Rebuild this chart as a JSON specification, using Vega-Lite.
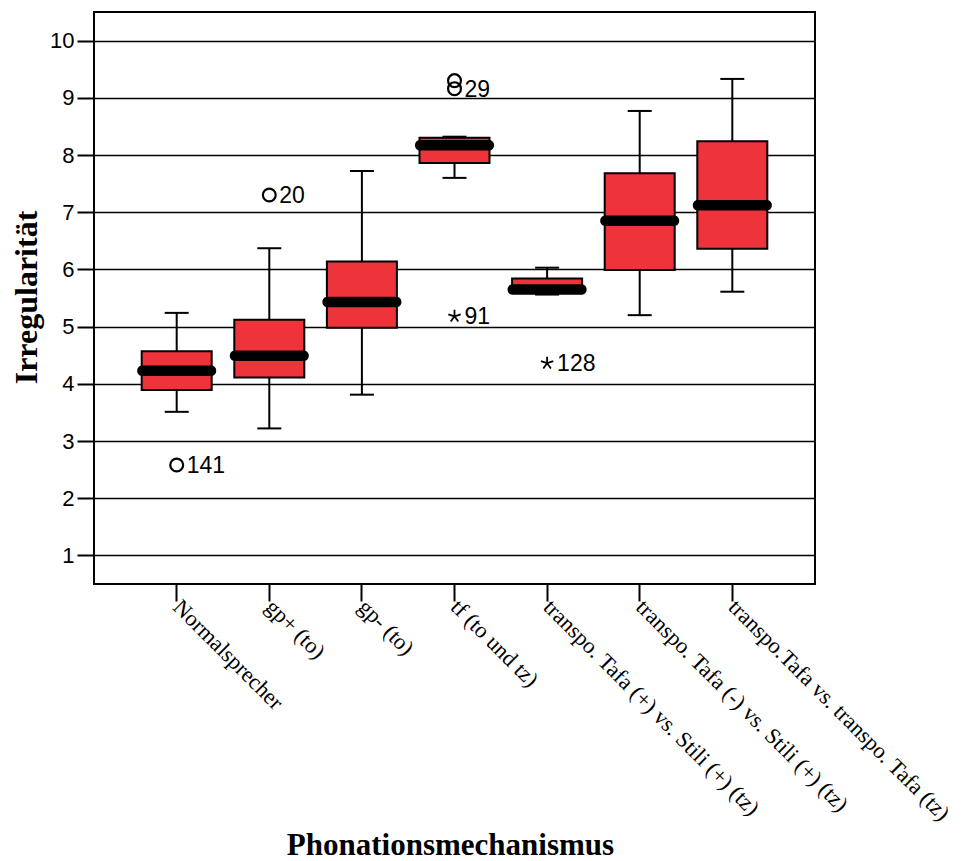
{
  "$schema": "https://vega.github.io/schema/vega-lite/v6.json",
  "width": 721,
  "height": 572,
  "autosize": {"type": "none"},
  "padding": {"left": 94, "top": 12, "right": 146, "bottom": 277},
  "background": "white",
  "config": {
    "view": {"stroke": "black", "strokeWidth": 2},
    "axis": {"labelColor": "black", "titleColor": "black"}
  },
  "datasets": {
    "boxes": [
      {"group": "Normalsprecher", "low": 3.51, "q1": 3.89, "median": 4.23, "q3": 4.57, "high": 5.24},
      {"group": "gp+ (to)", "low": 3.22, "q1": 4.11, "median": 4.49, "q3": 5.12, "high": 6.37},
      {"group": "gp- (to)", "low": 3.81, "q1": 4.98, "median": 5.43, "q3": 6.14, "high": 7.72},
      {"group": "tf (to und tz)", "low": 7.60, "q1": 7.86, "median": 8.17, "q3": 8.30, "high": 8.32},
      {"group": "transpo. Tafa (+) vs. Stili (+) (tz)", "low": 5.56, "q1": 5.60, "median": 5.65, "q3": 5.84, "high": 6.03},
      {"group": "transpo. Tafa (-) vs. Stili (+) (tz)", "low": 5.20, "q1": 5.99, "median": 6.85, "q3": 7.68, "high": 8.77},
      {"group": "transpo.Tafa vs. transpo. Tafa (tz)", "low": 5.61, "q1": 6.36, "median": 7.12, "q3": 8.24, "high": 9.33}
    ],
    "outliers": [
      {"group": "Normalsprecher", "value": 2.58, "kind": "outlier", "label": "141"},
      {"group": "gp+ (to)", "value": 7.30, "kind": "outlier", "label": "20"},
      {"group": "tf (to und tz)", "value": 9.30, "kind": "outlier", "label": ""},
      {"group": "tf (to und tz)", "value": 9.16, "kind": "outlier", "label": "29"},
      {"group": "tf (to und tz)", "value": 5.18, "kind": "extreme", "label": "91"},
      {"group": "transpo. Tafa (+) vs. Stili (+) (tz)", "value": 4.36, "kind": "extreme", "label": "128"}
    ]
  },
  "encoding": {
    "x": {
      "field": "group",
      "type": "nominal",
      "sort": null,
      "scale": {
        "type": "band",
        "domain": ["Normalsprecher", "gp+ (to)", "gp- (to)", "tf (to und tz)", "transpo. Tafa (+) vs. Stili (+) (tz)", "transpo. Tafa (-) vs. Stili (+) (tz)", "transpo.Tafa vs. transpo. Tafa (tz)"],
        "paddingInner": 0,
        "paddingOuter": 0.393
      },
      "axis": {
        "title": "Phonationsmechanismus",
        "titleFont": "Liberation Serif",
        "titleFontWeight": "bold",
        "titleFontSize": 31,
        "titleX": 356,
        "titleY": 270,
        "titleAlign": "center",
        "titleBaseline": "alphabetic",
        "labelFont": "Liberation Serif",
        "labelFontSize": 22.5,
        "labelAngle": 45,
        "labelAlign": "left",
        "labelBaseline": "middle",
        "labelPadding": 2,
        "labelLimit": 0,
        "labelOverlap": false,
        "tickSize": 17,
        "tickWidth": 2,
        "tickColor": "black",
        "domain": false,
        "grid": false
      }
    }
  },
  "layer": [
    {
      "data": {"name": "boxes"},
      "mark": {"type": "rule", "color": "black", "strokeWidth": 2},
      "encoding": {
        "y": {
          "field": "low",
          "type": "quantitative",
          "scale": {"domain": [0.5, 10.5], "nice": false, "zero": false},
          "axis": {
            "title": "Irregularität",
            "titleFont": "Liberation Serif",
            "titleFontWeight": "bold",
            "titleFontSize": 32,
            "titleAngle": -90,
            "titleX": -68,
            "titleY": 285,
            "titleAlign": "center",
            "titleBaseline": "middle",
            "values": [1, 2, 3, 4, 5, 6, 7, 8, 9, 10],
            "format": "d",
            "labelFont": "Liberation Sans",
            "labelFontSize": 22,
            "labelPadding": 3,
            "tickSize": 17,
            "tickWidth": 2,
            "tickColor": "black",
            "domain": false,
            "grid": true,
            "gridColor": "black",
            "gridWidth": 1.5,
            "gridOpacity": 1
          }
        },
        "y2": {"field": "high"}
      }
    },
    {
      "data": {"name": "boxes"},
      "mark": {"type": "tick", "color": "black", "size": 24, "thickness": 2, "opacity": 1},
      "encoding": {"y": {"field": "low", "type": "quantitative"}}
    },
    {
      "data": {"name": "boxes"},
      "mark": {"type": "tick", "color": "black", "size": 24, "thickness": 2, "opacity": 1},
      "encoding": {"y": {"field": "high", "type": "quantitative"}}
    },
    {
      "data": {"name": "boxes"},
      "mark": {"type": "bar", "fill": "#EE333B", "stroke": "black", "strokeWidth": 2, "size": 70},
      "encoding": {
        "y": {"field": "q1", "type": "quantitative"},
        "y2": {"field": "q3"}
      }
    },
    {
      "data": {"name": "boxes"},
      "mark": {"type": "tick", "color": "black", "size": 79, "thickness": 10.5, "cornerRadius": 5, "opacity": 1},
      "encoding": {"y": {"field": "median", "type": "quantitative"}}
    },
    {
      "data": {"name": "outliers"},
      "transform": [{"filter": "datum.kind == 'outlier'"}],
      "mark": {"type": "point", "shape": "circle", "filled": false, "stroke": "black", "strokeWidth": 2.2, "size": 165, "opacity": 1},
      "encoding": {"y": {"field": "value", "type": "quantitative"}}
    },
    {
      "data": {"name": "outliers"},
      "transform": [{"filter": "datum.kind == 'extreme'"}],
      "mark": {"type": "point", "shape": "M0,0L0,-1M0,0L0.951,-0.309M0,0L0.588,0.809M0,0L-0.588,0.809M0,0L-0.951,-0.309", "filled": false, "stroke": "black", "strokeWidth": 1.8, "size": 169, "opacity": 1},
      "encoding": {"y": {"field": "value", "type": "quantitative"}}
    },
    {
      "data": {"name": "outliers"},
      "mark": {"type": "text", "align": "left", "baseline": "middle", "dx": 10, "dy": 1, "font": "Liberation Sans", "fontSize": 23, "color": "black"},
      "encoding": {
        "y": {"field": "value", "type": "quantitative"},
        "text": {"field": "label"}
      }
    }
  ]
}
